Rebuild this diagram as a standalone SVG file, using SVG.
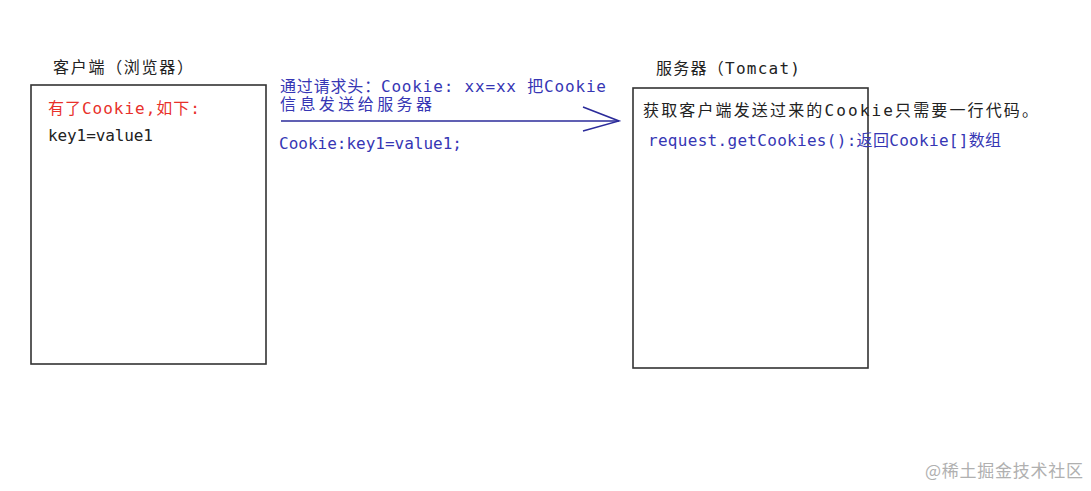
<svg xmlns="http://www.w3.org/2000/svg" width="1091" height="491" viewBox="0 0 1091 491">
<style>
text{font-family:"DejaVu Sans Mono","Noto Sans CJK SC",monospace;font-size:16px}
.box{fill:#fff;stroke:#333;stroke-width:1.6}
.red{fill:#e8302a}
.blue{fill:#3636b4}
.blk{fill:#222}
.wm{fill:#b0b0b0;font-family:"Noto Sans CJK SC",sans-serif;font-size:17px}
</style>
<rect width="1091" height="491" fill="#fff"/>
<g id="client">
<text class="blk" x="53" y="73" textLength="140" lengthAdjust="spacing">客户端（浏览器）</text>
<rect class="box" x="31" y="85" width="235" height="279"/>
<text class="red" x="48" y="114" textLength="152" lengthAdjust="spacing">有了Cookie,如下:</text>
<text class="blk" x="48" y="141" textLength="105" lengthAdjust="spacing">key1=value1</text>
</g>
<g id="server">
<text class="blk" x="656" y="74" textLength="144" lengthAdjust="spacing">服务器（Tomcat)</text>
<rect class="box" x="633" y="88" width="235" height="280"/>
<text class="blk" x="643" y="116" textLength="395" lengthAdjust="spacing">获取客户端发送过来的Cookie只需要一行代码。</text>
<text class="blue" x="648" y="146" textLength="353" lengthAdjust="spacing">request.getCookies():返回Cookie[]数组</text>
</g>
<g id="connectors">
<line x1="281" y1="121" x2="619" y2="121" stroke="#2b2b9a" stroke-width="1.5"/>
<polyline points="583,107 619,121 583,131" fill="none" stroke="#2b2b9a" stroke-width="1.5"/>
<text class="blue" x="280" y="92" textLength="326" lengthAdjust="spacing">通过请求头：Cookie: xx=xx 把Cookie</text>
<text class="blue" x="280" y="110" textLength="152" lengthAdjust="spacing">信息发送给服务器</text>
<text class="blue" x="279" y="149" textLength="183" lengthAdjust="spacing">Cookie:key1=value1;</text>
</g>
<text class="wm" x="925" y="477" textLength="158" lengthAdjust="spacing">@稀土掘金技术社区</text>
</svg>
